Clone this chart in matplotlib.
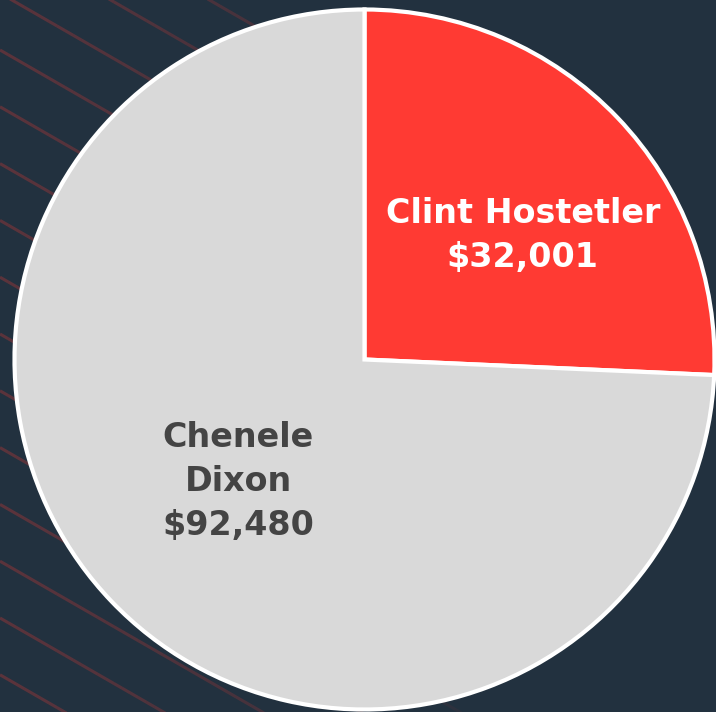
import numpy as np
import matplotlib
matplotlib.use("Agg")
import matplotlib.pyplot as plt
from matplotlib.collections import LineCollection

# data
names = ["Clint Hostetler", "Chenele Dixon"]
label_lines = ["Clint Hostetler", "Chenele\nDixon"]
amounts = [32001, 92480]
colors = ["#ff3a33", "#d9d9d9"]
text_colors = ["white", "#444444"]
# label anchors, in units of the radius from the centre
label_pos = [(0.452, 0.355), (-0.361, -0.349)]

W, H = 716, 712
bg = "#22313f"

fig = plt.figure(figsize=(W / 100, H / 100), dpi=100, facecolor=bg)
ax = fig.add_axes([0, 0, 1, 1])
ax.set_facecolor(bg)

# faint diagonal stripes in the background, fading out to the right
segs, cols = [], []
xs = np.linspace(0, 480, 60)
for k in range(-3, 16):
    y0 = 50 + 56.8 * k
    for x1, x2 in zip(xs[:-1], xs[1:]):
        ya, yb = y0 + 0.575 * x1, y0 + 0.575 * x2
        segs.append([(x1, H - ya), (x2, H - yb)])
        a = 0.26 * max(0.0, 1 - x1 / 480) ** 0.6
        cols.append((1.0, 0.23, 0.2, a))
ax.add_collection(LineCollection(segs, colors=cols, linewidths=2.2,
                                 capstyle="butt", zorder=0))

cx, cy, r = 364.5, H - 359.5, 350
wedges, _ = ax.pie(amounts, colors=colors, startangle=90, counterclock=False,
                   center=(cx, cy), radius=r, frame=True,
                   wedgeprops=dict(edgecolor="white", linewidth=3, zorder=1))
ax.set_xlim(0, W)
ax.set_ylim(0, H)
ax.set_aspect("equal")
ax.axis("off")

for txt, amt, tc, (px, py) in zip(label_lines, amounts, text_colors, label_pos):
    ax.text(cx + px * r, cy + py * r, "{}\n${:,}".format(txt, amt),
            ha="center", va="center", color=tc, fontsize=24,
            fontweight="bold", family="DejaVu Sans", linespacing=1.42, zorder=3)

fig.savefig("out.png", dpi=100, facecolor=bg)
